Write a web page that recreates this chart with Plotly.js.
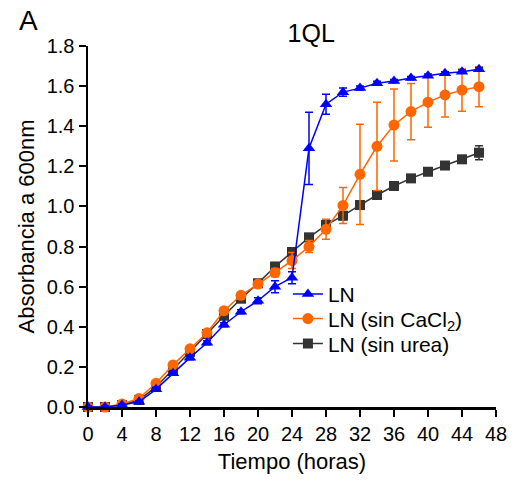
<!DOCTYPE html>
<html><head><meta charset="utf-8">
<script src="https://cdn.plot.ly/plotly-3.0.1.min.js"></script>
<style>body{margin:0;padding:0;background:#fff}#chart{width:515px;height:482px}</style>
</head><body><div id="chart"></div>
<script>
const hours = [0,2,4,6,8,10,12,14,16,18,20,22,24,26,28,30,32,34,36,38,40,42,44,46];
const lnVals = [0,0,0.01,0.026,0.088,0.168,0.246,0.32,0.41,0.475,0.53,0.60,0.645,1.29,1.51,1.57,1.59,1.614,1.625,1.64,1.652,1.664,1.672,1.684];
const lnErr  = [0.005,0.005,0.005,0.005,0.01,0.01,0.01,0.01,0.01,0.01,0.015,0.03,0.03,0.18,0.05,0.02,0.01,0.01,0.008,0.008,0.008,0.008,0.008,0.008];
const caVals = [0,0,0.015,0.043,0.118,0.21,0.29,0.37,0.48,0.557,0.613,0.67,0.73,0.80,0.886,1.005,1.16,1.30,1.406,1.473,1.52,1.556,1.58,1.597];
const caErr  = [0.005,0.005,0.005,0.01,0.01,0.01,0.01,0.01,0.01,0.01,0.015,0.02,0.04,0.03,0.05,0.09,0.25,0.22,0.18,0.14,0.125,0.11,0.105,0.1];
const urVals = [0,0,0.01,0.035,0.10,0.19,0.275,0.364,0.455,0.54,0.617,0.70,0.773,0.846,0.907,0.954,1.007,1.057,1.102,1.14,1.173,1.204,1.235,1.268];
const urErr  = [0.005,0.005,0.005,0.005,0.01,0.01,0.01,0.01,0.01,0.01,0.015,0.02,0.02,0.015,0.02,0.02,0.02,0.015,0.015,0.01,0.01,0.01,0.015,0.035];
const names = ['LN','LN (sin CaCl<sub>2</sub>)','LN (sin urea)'];
const xTicks = [0,4,8,12,16,20,24,28,32,36,40,44,48];
const yTicks = [0,0.2,0.4,0.6,0.8,1.0,1.2,1.4,1.6,1.8];

function tr(y, e, name, color, symbol, size, leg){
  return {x: hours, y: y, name: name, type:'scatter', mode:'lines+markers', legend: leg,
    line:{color:color, width:1.5},
    marker:{color:color, symbol:symbol, size:size},
    error_y:{type:'data', array:e, visible:true, color:color, thickness:1.5, width:4},
    cliponaxis:false};
}
const data = [
  tr(urVals, urErr, names[2], '#333333', 'square', 10, 'legend3'),
  tr(caVals, caErr, names[1], '#FF6600', 'circle', 11, 'legend2'),
  tr(lnVals, lnErr, names[0], '#0000FF', 'triangle-up', 11, 'legend')
];
const FAM = 'Liberation Sans, Arial, sans-serif';
function f(s){ return {family:FAM, size:s, color:'#000'}; }
function leg(y){ return {x:0.49, y:y, xanchor:'left', yanchor:'middle', font:f(21), bgcolor:'rgba(0,0,0,0)', itemwidth:30}; }
const layout = {
  width:515, height:482,
  margin:{l:88, r:19, t:46, b:75},
  paper_bgcolor:'#fff', plot_bgcolor:'#fff',
  font: f(20),
  showlegend:true,
  legend: leg(0.312),
  legend2: leg(0.244),
  legend3: leg(0.175),
  title:{text:'1QL', x:0.547, xref:'paper', xanchor:'center', y:0.932, yref:'container', yanchor:'middle', font:f(25)},
  xaxis:{range:[0,48], tickvals:xTicks, ticktext:xTicks.map(String), showgrid:false, zeroline:false,
    showline:true, linecolor:'#000', linewidth:2.5, ticks:'outside', ticklen:7, tickwidth:2, tickcolor:'#000',
    tickfont:f(20),
    title:{text:'Tiempo (horas)', font:f(22), standoff:10}},
  yaxis:{range:[0,1.8], tickvals:yTicks, ticktext:yTicks.map(v=>v.toFixed(1)), showgrid:false, zeroline:false,
    showline:true, linecolor:'#000', linewidth:2.5, ticks:'outside', ticklen:7, tickwidth:2, tickcolor:'#000',
    tickfont:f(20),
    title:{text:'Absorbancia a 600nm', font:f(22), standoff:6}},
  annotations:[{text:'A', xref:'paper', yref:'paper', x:-0.175, y:1.072, xanchor:'left', yanchor:'middle', showarrow:false,
    font:f(28)}]
};
Plotly.newPlot('chart', data, layout, {displayModeBar:false, staticPlot:true});
</script></body></html>
